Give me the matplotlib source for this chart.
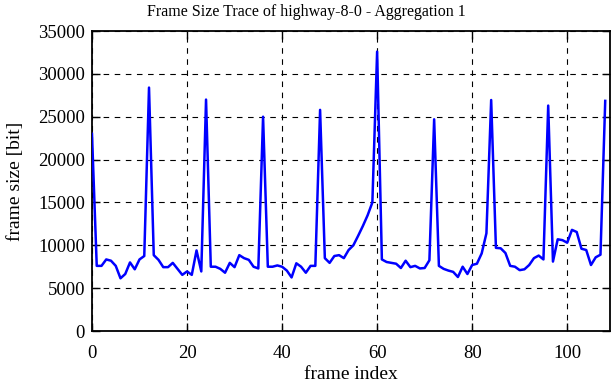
import matplotlib
matplotlib.use('Agg')
import matplotlib.pyplot as plt

plt.rcParams['font.family'] = ['Liberation Serif', 'DejaVu Serif']

# frame sizes (bit), frames 0..108
frame_size = [
    23000, 7600, 7600, 8350, 8200, 7600, 6150, 6650, 8000, 7200,
    8350, 8750, 28400, 8850, 8300, 7450, 7450, 7950, 7250, 6550,
    6950, 6550, 9400, 6950, 27000, 7500, 7500, 7250, 6800, 7950,
    7450, 8850, 8500, 8300, 7500, 7300, 25000, 7500, 7500, 7650,
    7500, 7050, 6250, 7900, 7500, 6800, 7600, 7600, 25800, 8500,
    7950, 8750, 8850, 8500, 9450, 10000, 11100, 12250, 13500, 15000,
    32600, 8350, 8050, 7950, 7850, 7350, 8200, 7450, 7600, 7300,
    7350, 8250, 24700, 7600, 7250, 7050, 6900, 6300, 7500, 6650,
    7700, 7850, 9050, 11400, 26950, 9700, 9650, 9100, 7600, 7500,
    7100, 7200, 7700, 8500, 8800, 8350, 26300, 8100, 10700, 10600,
    10300, 11800, 11550, 9600, 9450, 7700, 8600, 8900, 26850,
]
frame_index = list(range(len(frame_size)))

x_ticks = [0, 20, 40, 60, 80, 100]
y_ticks = [0, 5000, 10000, 15000, 20000, 25000, 30000, 35000]

fig = plt.figure(figsize=(6.12, 3.82), dpi=100)
ax = fig.add_axes([0.1503, 0.1335, 0.8464, 0.7853])

ax.plot(frame_index, frame_size, color='#0000ff', linewidth=1.8, zorder=3)

ax.set_xlim(0, 109)
ax.set_ylim(0, 35000)
ax.set_xticks(x_ticks)
ax.set_yticks(y_ticks)
ax.grid(True, color='black', linestyle=(0, (5, 5)), linewidth=0.8)
ax.tick_params(direction='in', top=True, right=True, length=6, width=1,
               labelsize=13.5)
ax.tick_params(axis='x', pad=10)
ax.tick_params(axis='y', pad=5)
for s in ax.spines.values():
    s.set_linewidth(1.3)

fig.text(0.5, 0.968, 'Frame Size Trace of highway-8-0 - Aggregation 1',
         fontsize=11.5, ha='center', va='center')
ax.set_xlabel('frame index', fontsize=14, labelpad=3)
ax.set_ylabel('frame size [bit]', fontsize=14, labelpad=10)

fig.savefig('out.png', dpi=100)
